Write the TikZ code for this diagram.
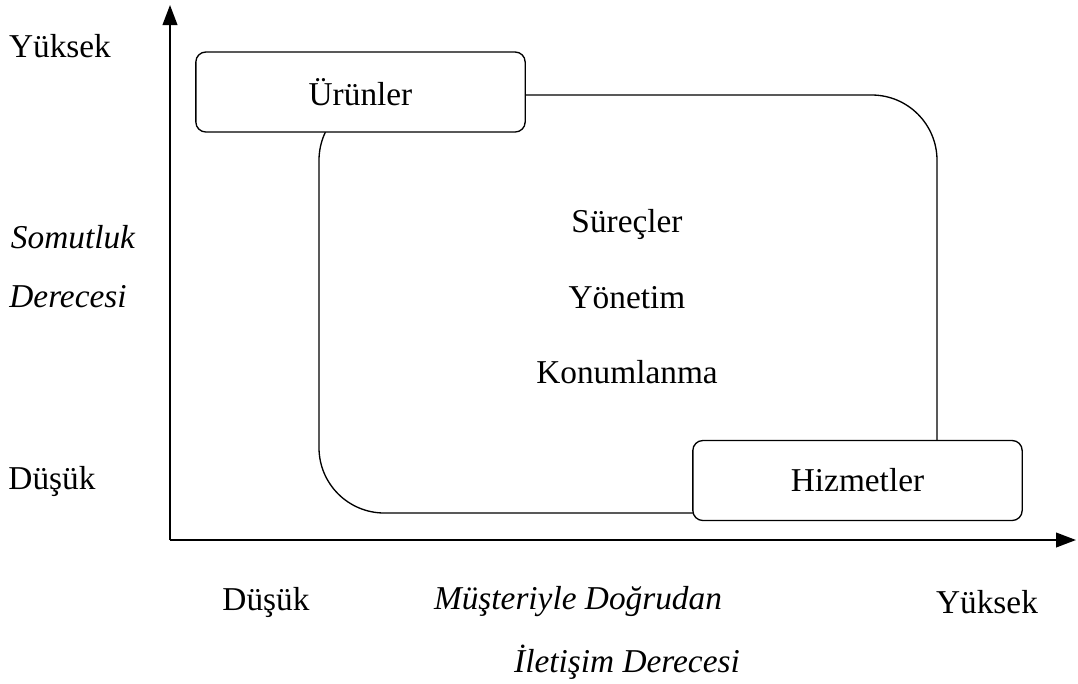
\documentclass[tikz,border=0pt]{standalone}
\usepackage{fontspec}
\setmainfont{Liberation Serif}
\usetikzlibrary{arrows.meta}
\begin{document}
\begin{tikzpicture}[x=0.75pt,y=-0.75pt,
  lbl/.style={font=\fontsize{25}{30}\selectfont, inner sep=0pt},
  ilbl/.style={font=\fontsize{25}{30}\selectfont\itshape, inner sep=0pt},
  catbox/.style={draw, line width=1pt, rounded corners=7.5pt, fill=white, minimum width=247pt, minimum height=60pt, font=\fontsize{25}{30}\selectfont},
  axis/.style={line width=1.4pt, -{Triangle[length=15pt,width=11pt]}},
  loop/.style={line width=1pt, rounded corners=49pt}]
\useasboundingbox (0,0) rectangle (1078,683);
\coordinate (O) at (170,540);
\coordinate (ytip) at (170,5);
\coordinate (xtip) at (1076,540);
\draw[axis] (O) -- (ytip);
\draw[axis] (O) -- (xtip);
\draw[loop] (319,95) rectangle (937,513);
\node[catbox] (urun) at (360.5,92) {Ürünler};
\node[catbox] (hizm) at (857.5,480.5) {Hizmetler};
\node[lbl] (sur) at (627,224) {Süreçler};
\node[lbl] (yon) at (627,298) {Yönetim};
\node[lbl] (kon) at (627,372) {Konumlanma};
\node[lbl] (yy) at (60,46) {Yüksek};
\node[ilbl] (som) at (73,237) {Somutluk};
\node[ilbl] (der) at (68,297) {Derecesi};
\node[lbl] (yd) at (52,481) {Düşük};
\node[lbl] (xd) at (266,602) {Düşük};
\node[ilbl] (mus) at (578,602) {Müşteriyle Doğrudan};
\node[ilbl] (ile) at (627,662) {İletişim Derecesi};
\node[lbl] (xy) at (987,602) {Yüksek};
\end{tikzpicture}
\end{document}
